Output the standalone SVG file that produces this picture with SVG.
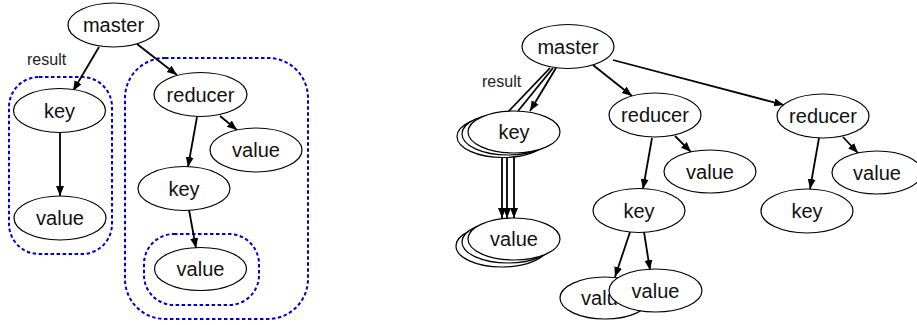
<svg xmlns="http://www.w3.org/2000/svg" width="917" height="325" viewBox="0 0 917 325">
<style>
.n{fill:#fff;stroke:#000;stroke-width:1.2}
.t{font-family:"Liberation Sans",Arial,sans-serif;font-size:20px;fill:#111;text-anchor:middle}
.l{font-family:"Liberation Sans",Arial,sans-serif;font-size:16px;fill:#222}
.e{stroke:#000;stroke-width:1.8;fill:none}
.a{marker-end:url(#ah)}
.c{fill:none;stroke:#0000cc;stroke-width:2;stroke-dasharray:3.5 2.5}
</style>
<defs>
<marker id="ah" markerUnits="userSpaceOnUse" markerWidth="11" markerHeight="9" refX="10" refY="4" orient="auto">
<path d="M0,0 L10,4 L0,8 z" fill="#000"/>
</marker>
</defs>
<rect width="917" height="325" fill="#fff"/>
<g id="clusters">
<rect class="c" x="9" y="77" width="103" height="177" rx="30"/>
<rect class="c" x="125" y="58" width="183" height="261" rx="40"/>
<rect class="c" x="144" y="234" width="115" height="71" rx="30"/>
</g>
<g id="connectors">
<line class="e a" x1="99" y1="47" x2="73" y2="91"/>
<line class="e a" x1="137" y1="44" x2="177" y2="75"/>
<line class="e a" x1="60" y1="133" x2="60" y2="196"/>
<line class="e a" x1="220" y1="116" x2="237" y2="130"/>
<line class="e a" x1="197" y1="117" x2="188" y2="167"/>
<line class="e a" x1="189" y1="210" x2="196" y2="248"/>
<line class="e" x1="550" y1="68" x2="508" y2="112"/>
<line class="e" x1="553" y1="68" x2="518" y2="111"/>
<line class="e a" x1="556" y1="68" x2="530" y2="111"/>
<line class="e a" x1="502" y1="157" x2="502" y2="218"/>
<line class="e a" x1="507" y1="155" x2="507" y2="218"/>
<line class="e a" x1="514" y1="153" x2="514" y2="218"/>
<line class="e a" x1="593" y1="65" x2="632" y2="96"/>
<line class="e a" x1="613" y1="60" x2="784" y2="105"/>
<line class="e a" x1="675" y1="136" x2="691" y2="152"/>
<line class="e a" x1="652" y1="138" x2="643" y2="189"/>
<line class="e a" x1="843" y1="137" x2="858" y2="153"/>
<line class="e a" x1="819" y1="138" x2="810" y2="189"/>
<line class="e a" x1="630" y1="232" x2="615" y2="277"/>
<line class="e a" x1="644" y1="232" x2="650" y2="270"/>
</g>
<g id="labels">
<text class="l" x="27" y="65">result</text>
<text class="l" x="482" y="87">result</text>
</g>
<g id="master1"><ellipse class="n" cx="113.5" cy="25" rx="45.5" ry="22"/><text class="t" x="113.5" y="32">master</text></g>
<g id="key1"><ellipse class="n" cx="59.5" cy="110.5" rx="46" ry="22"/><text class="t" x="59.5" y="117.5">key</text></g>
<g id="value1"><ellipse class="n" cx="60" cy="218" rx="46" ry="22"/><text class="t" x="60" y="225">value</text></g>
<g id="reducer1"><ellipse class="n" cx="200.5" cy="94.5" rx="46.5" ry="22"/><text class="t" x="200.5" y="101.5">reducer</text></g>
<g id="value2"><ellipse class="n" cx="256" cy="150" rx="46" ry="22"/><text class="t" x="256" y="157">value</text></g>
<g id="key2"><ellipse class="n" cx="184" cy="188.5" rx="46" ry="22"/><text class="t" x="184" y="195.5">key</text></g>
<g id="value3"><ellipse class="n" cx="200.5" cy="269" rx="46" ry="21.5"/><text class="t" x="200.5" y="276">value</text></g>
<g id="master2"><ellipse class="n" cx="568" cy="46.5" rx="46" ry="22"/><text class="t" x="568" y="53.5">master</text></g>
<g id="key3">
<ellipse class="n" cx="503" cy="136.5" rx="46" ry="21"/>
<ellipse class="n" cx="508" cy="134" rx="46" ry="21"/>
<ellipse class="n" cx="514" cy="132" rx="46" ry="21"/>
<text class="t" x="514" y="139">key</text></g>
<g id="value4">
<ellipse class="n" cx="502" cy="246" rx="46" ry="21"/>
<ellipse class="n" cx="508" cy="242" rx="46" ry="21"/>
<ellipse class="n" cx="514" cy="239" rx="46" ry="21"/>
<text class="t" x="514" y="246">value</text></g>
<g id="reducer2"><ellipse class="n" cx="655" cy="115" rx="46" ry="22"/><text class="t" x="655" y="122">reducer</text></g>
<g id="reducer3"><ellipse class="n" cx="823" cy="116" rx="46" ry="22"/><text class="t" x="823" y="123">reducer</text></g>
<g id="value5"><ellipse class="n" cx="710" cy="171.5" rx="46" ry="21.5"/><text class="t" x="710" y="178.5">value</text></g>
<g id="value6"><ellipse class="n" cx="877" cy="172.5" rx="45" ry="21.5"/><text class="t" x="877" y="179.5">value</text></g>
<g id="key4"><ellipse class="n" cx="639" cy="210.5" rx="46" ry="22"/><text class="t" x="639" y="217.5">key</text></g>
<g id="key5"><ellipse class="n" cx="807" cy="211" rx="46" ry="22"/><text class="t" x="807" y="218">key</text></g>
<g id="value7"><ellipse class="n" cx="605" cy="298" rx="45" ry="21"/><text class="t" x="605" y="305">value</text></g>
<g id="value8"><ellipse class="n" cx="655.5" cy="290.5" rx="46.5" ry="21.5"/><text class="t" x="655.5" y="297.5">value</text></g>
</svg>
